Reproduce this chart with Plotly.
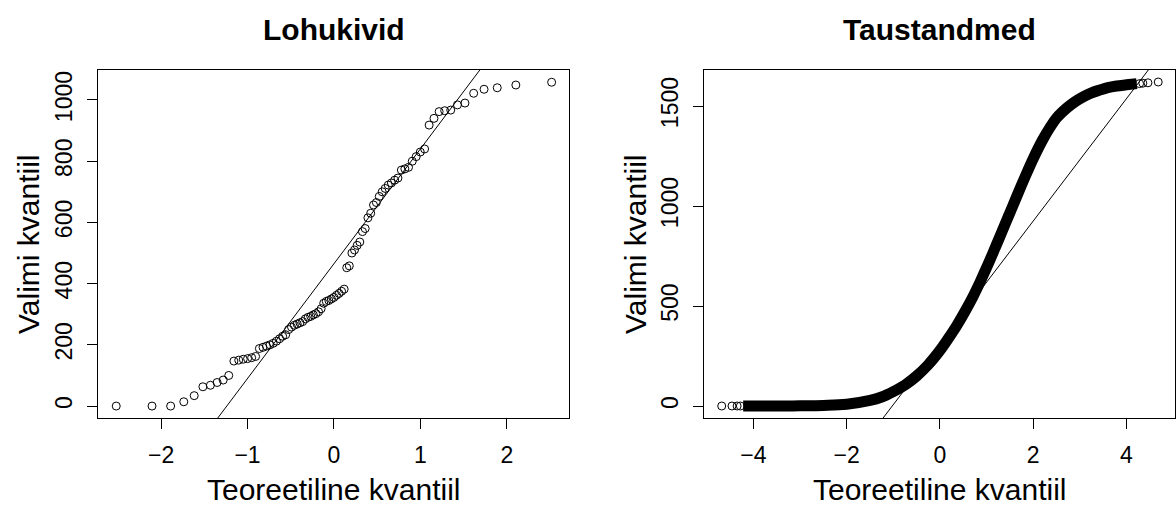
import plotly.graph_objects as go
from statistics import NormalDist

# ---------------- data ----------------
# Left panel "Lohukivid": sorted sample values (n = 85)
lohu_values = [
    0, 0, 0, 14, 34, 63, 68, 77, 85, 100,
    147, 150, 153, 155, 158, 162, 188, 192, 196, 200,
    205, 212, 220, 228, 233, 250, 258, 264, 268, 272,
    276, 285, 290, 293, 298, 302, 308, 318, 336, 342,
    345, 350, 355, 362, 368, 375, 382, 452, 458, 500,
    510, 525, 536, 570, 580, 615, 630, 657, 665, 685,
    700, 711, 722, 729, 738, 745, 771, 775, 780, 800,
    815, 830, 840, 918, 940, 962, 965, 967, 984, 990,
    1022, 1035, 1040, 1049, 1058,
]
lohu_line_slope = 375
lohu_line_intercept = 465

# Right panel "Taustandmed": dense band (theoretical quantile, sample quantile)
taust_band_x = [-4.22, -3.5, -3.0, -2.5, -2.0, -1.5, -1.25, -1.0, -0.75, -0.5,
                -0.25, 0.0, 0.18, 0.36, 0.53, 0.71, 0.86, 1.0, 1.15, 1.29,
                1.47, 1.65, 1.82, 2.0, 2.2, 2.36, 2.5, 2.72, 2.9, 3.08,
                3.25, 3.43, 3.6, 3.79, 4.0, 4.22]
taust_band_y = [0, 0, 1, 3, 9, 28, 45, 72, 105, 150,
                207, 278, 338, 402, 470, 548, 620, 692, 773, 850,
                950, 1050, 1143, 1237, 1330, 1393, 1440, 1490, 1522, 1547,
                1566, 1580, 1592, 1600, 1606, 1612]
# sparse tail points
taust_tail_x = [-4.68, -4.46, -4.35, -4.28, 4.28, 4.35, 4.46, 4.68]
taust_tail_y = [0, 0, 0, 0, 1612, 1614, 1616, 1620]
taust_line_slope = 306
taust_line_intercept = 313

# ticks
lohu_xticks = [-2, -1, 0, 1, 2]
lohu_yticks = [0, 200, 400, 600, 800, 1000]
taust_xticks = [-4, -2, 0, 2, 4]
taust_yticks = [0, 500, 1000, 1500]

titles = ["Lohukivid", "Taustandmed"]
xlabel = "Teoreetiline kvantiil"
ylabel = "Valimi kvantiil"

# ---------------- figure ----------------
n = len(lohu_values)
nd = NormalDist()
lohu_theo = [nd.inv_cdf((i + 0.5) / n) for i in range(n)]

FONT = "Liberation Sans, Arial, Helvetica, sans-serif"
W, H = 1176, 506

fig = go.Figure()

# left: points
fig.add_trace(go.Scatter(
    x=lohu_theo, y=lohu_values, mode="markers",
    marker=dict(symbol="circle-open", size=8, color="black", line=dict(width=1)),
    xaxis="x", yaxis="y", showlegend=False, hoverinfo="skip"))
# left: qqline
lx = [-3.0, 3.0]
fig.add_trace(go.Scatter(
    x=lx, y=[lohu_line_intercept + lohu_line_slope * v for v in lx], mode="lines",
    line=dict(color="black", width=1), xaxis="x", yaxis="y",
    showlegend=False, hoverinfo="skip"))

# right: dense band
fig.add_trace(go.Scatter(
    x=taust_band_x, y=taust_band_y, mode="lines",
    line=dict(color="black", width=11, shape="spline", smoothing=1.0),
    xaxis="x2", yaxis="y2", showlegend=False, hoverinfo="skip"))
fig.add_trace(go.Scatter(
    x=taust_tail_x, y=taust_tail_y, mode="markers",
    marker=dict(symbol="circle-open", size=8, color="black", line=dict(width=1)),
    xaxis="x2", yaxis="y2", showlegend=False, hoverinfo="skip"))
rx = [-6.0, 6.0]
fig.add_trace(go.Scatter(
    x=rx, y=[taust_line_intercept + taust_line_slope * v for v in rx], mode="lines",
    line=dict(color="black", width=1), xaxis="x2", yaxis="y2",
    showlegend=False, hoverinfo="skip"))


def px_x(p):
    return p / W


def px_y(p):
    return 1 - p / H


axis_common = dict(
    showline=True, linecolor="black", linewidth=1, mirror=True,
    ticks="outside", ticklen=10, tickwidth=1, tickcolor="black",
    showgrid=False, zeroline=False,
    tickfont=dict(family=FONT, size=23, color="black"),
)


def ticktext(vals):
    return [("\u2212" + str(abs(v))) if v < 0 else str(v) for v in vals]


fig.update_layout(
    width=W, height=H,
    margin=dict(l=0, r=0, t=0, b=0),
    paper_bgcolor="white", plot_bgcolor="white",
    xaxis=dict(domain=[px_x(98), px_x(569)], range=[-2.73, 2.72], anchor="y",
               tickvals=lohu_xticks, ticktext=ticktext(lohu_xticks),
               ticklabelstandoff=6, **axis_common),
    yaxis=dict(domain=[px_y(418), px_y(70)], range=[-39, 1098], anchor="x",
               tickvals=lohu_yticks, ticktext=ticktext(lohu_yticks),
               tickangle=-90, ticklabelstandoff=6, **axis_common),
    xaxis2=dict(domain=[px_x(704), px_x(1175)], range=[-5.06, 5.04], anchor="y2",
                tickvals=taust_xticks, ticktext=ticktext(taust_xticks),
                ticklabelstandoff=6, **axis_common),
    yaxis2=dict(domain=[px_y(418), px_y(70)], range=[-60, 1680], anchor="x2",
                tickvals=taust_yticks, ticktext=ticktext(taust_yticks),
                tickangle=-90, ticklabelstandoff=6, **axis_common),
)

annos = []
for cx, t in [((98 + 569) / 2, titles[0]), ((704 + 1175) / 2, titles[1])]:
    annos.append(dict(text="<b>%s</b>" % t, x=px_x(cx), y=px_y(30), xref="paper", yref="paper",
                      xanchor="center", yanchor="middle", showarrow=False,
                      font=dict(family=FONT, size=30, color="black")))
    annos.append(dict(text=xlabel, x=px_x(cx), y=px_y(489), xref="paper", yref="paper",
                      xanchor="center", yanchor="middle", showarrow=False,
                      font=dict(family=FONT, size=30, color="black")))
for cx, cy in [(28, 244), (635, 244)]:
    annos.append(dict(text=ylabel, x=px_x(cx), y=px_y(cy), xref="paper", yref="paper",
                      xanchor="center", yanchor="middle", showarrow=False, textangle=-90,
                      font=dict(family=FONT, size=30, color="black")))
fig.update_layout(annotations=annos)

fig.write_html("out.html")
